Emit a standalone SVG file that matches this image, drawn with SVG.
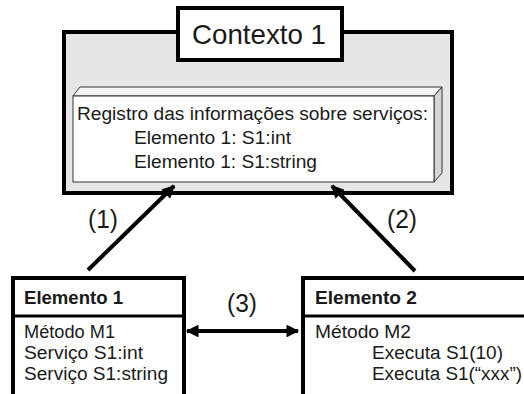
<svg xmlns="http://www.w3.org/2000/svg" width="524" height="394" viewBox="0 0 524 394">
<defs>
<style>
text{font-family:"Liberation Sans",Arial,sans-serif;fill:#1a1a1a}
.t{font-size:18px}
.b{font-size:18px;font-weight:bold}
.lbl{font-size:26px}
.conn{stroke:#000;stroke-width:4;fill:none}
.box{fill:#fff;stroke:#000;stroke-width:4}
</style>
<marker id="ah" viewBox="0 0 10 10" refX="9" refY="5" markerWidth="4" markerHeight="3.2" markerUnits="strokeWidth" orient="auto-start-reverse">
<path d="M0,0 L10,5 L0,10 Z" fill="#000"/>
</marker>
</defs>
<g id="contexto">
<rect x="64" y="32" width="388" height="161" fill="#e6e6e6" stroke="#000" stroke-width="4"/>
<rect x="178" y="8" width="164" height="52" class="box"/>
<text x="259" y="44" font-size="28" text-anchor="middle" textLength="134" lengthAdjust="spacingAndGlyphs">Contexto 1</text>
</g>
<g id="registro">
<polygon points="73,96 80,87 442,87 434,96" fill="#f6f6f6" stroke="#333" stroke-width="1"/>
<polygon points="434,96 442,87 442,173 434,182" fill="#d6d6d6" stroke="#333" stroke-width="1"/>
<rect x="73" y="96" width="361" height="86" fill="#fff" stroke="#333" stroke-width="1"/>
<text class="t" x="77" y="120" textLength="351" lengthAdjust="spacingAndGlyphs">Registro das informações sobre serviços:</text>
<text class="t" x="134" y="144" textLength="157" lengthAdjust="spacingAndGlyphs">Elemento 1: S1:int</text>
<text class="t" x="134" y="168" textLength="183" lengthAdjust="spacingAndGlyphs">Elemento 1: S1:string</text>
</g>
<g id="elemento1">
<rect x="13" y="278" width="171" height="140" class="box"/>
<line x1="13" y1="316" x2="184" y2="316" stroke="#000" stroke-width="3"/>
<text class="b" x="24" y="304" textLength="99" lengthAdjust="spacingAndGlyphs">Elemento 1</text>
<text class="t" x="24" y="338" textLength="91" lengthAdjust="spacingAndGlyphs">Método M1</text>
<text class="t" x="24" y="359" textLength="119" lengthAdjust="spacingAndGlyphs">Serviço S1:int</text>
<text class="t" x="24" y="380" textLength="144" lengthAdjust="spacingAndGlyphs">Serviço S1:string</text>
</g>
<g id="elemento2">
<rect x="303" y="278" width="240" height="140" class="box"/>
<line x1="303" y1="316" x2="524" y2="316" stroke="#000" stroke-width="3"/>
<text class="b" x="315" y="304" textLength="102" lengthAdjust="spacingAndGlyphs">Elemento 2</text>
<text class="t" x="315" y="338" textLength="96" lengthAdjust="spacingAndGlyphs">Método M2</text>
<text class="t" x="372" y="359" textLength="131" lengthAdjust="spacingAndGlyphs">Executa S1(10)</text>
<text class="t" x="372" y="380" textLength="150" lengthAdjust="spacingAndGlyphs">Executa S1(“xxx”)</text>
</g>
<g id="connectors">
<line class="conn" x1="88" y1="270" x2="174" y2="186" marker-end="url(#ah)"/>
<line class="conn" x1="415" y1="271" x2="332" y2="186" marker-end="url(#ah)"/>
<line class="conn" x1="187" y1="331" x2="298" y2="331" marker-start="url(#ah)" marker-end="url(#ah)"/>
<text class="lbl" x="103" y="228" text-anchor="middle" textLength="30" lengthAdjust="spacingAndGlyphs">(1)</text>
<text class="lbl" x="402" y="228" text-anchor="middle" textLength="30" lengthAdjust="spacingAndGlyphs">(2)</text>
<text class="lbl" x="242" y="312" text-anchor="middle" textLength="30" lengthAdjust="spacingAndGlyphs">(3)</text>
</g>
</svg>
